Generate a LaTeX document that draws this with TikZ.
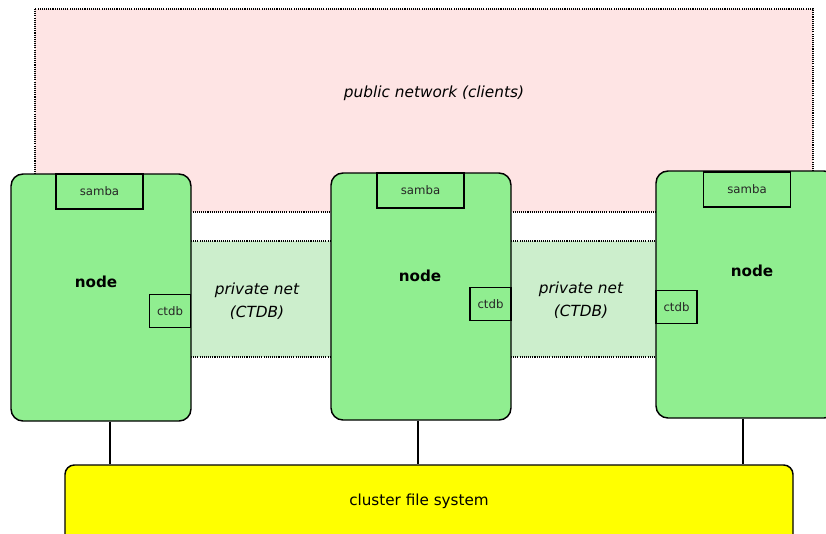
\documentclass[tikz,border=0pt]{standalone}
\usepackage{fontspec}
\setmainfont{DejaVu Sans}
\begin{document}
\begin{tikzpicture}[x=0.75pt,y=-0.75pt,
  pubnet/.style={fill=pubpink},
  privnet/.style={fill=privgreen},
  netedge/.style={line width=0.8pt,dash pattern=on 0.8pt off 0.8pt},
  hostbox/.style={draw=black,line width=1.1pt,fill=hostgreen,rounded corners=9pt,
    minimum width=135pt,minimum height=185.25pt,inner sep=0pt},
  svcbox/.style={draw=black,line width=1.1pt,fill=hostgreen,inner sep=0pt,
    font=\fontsize{8.8pt}{10pt}\selectfont,text=black!85},
  sambabox/.style={svcbox,minimum width=65.25pt,minimum height=26.25pt},
  ctdbbox/.style={svcbox,minimum width=31pt,minimum height=25pt},
  hostlabel/.style={inner sep=0pt,font=\fontsize{11.4pt}{13pt}\selectfont\bfseries},
  netlabel/.style={inner sep=0pt,align=center,font=\fontsize{11.5pt}{17pt}\selectfont\itshape},
  fsbox/.style={draw=black,line width=1.1pt,fill=fsyellow,rounded corners=7pt,
    minimum width=546pt,minimum height=60pt,inner sep=0pt},
  link/.style={line width=1.6pt}]
\definecolor{pubpink}{RGB}{254,228,228}
\definecolor{privgreen}{RGB}{204,238,204}
\definecolor{hostgreen}{RGB}{144,238,144}
\definecolor{fsyellow}{RGB}{255,255,0}
\useasboundingbox (0,0) rectangle (826,533);
\clip (0,0) rectangle (826,533);
% public network
\fill[pubnet] (35,9) rectangle (813,212);
\draw[netedge] (35,9) rectangle (813,212);
\node[netlabel] (publbl) at (434,93) {public network (clients)};
% private nets
\fill[privnet] (191,241) rectangle (331,357);
\draw[netedge] (191,241) -- (331,241) (191,357) -- (331,357);
\fill[privnet] (511,241) rectangle (656,357);
\draw[netedge] (511,241) -- (656,241) (511,357) -- (656,357);
\node[netlabel] (priv1) at (257,301) {private net\\(CTDB)};
\node[netlabel] (priv2) at (581,300) {private net\\(CTDB)};
% cluster file system
\node[fsbox] (fs) at (429,505) {};
\node[inner sep=0pt,font=\fontsize{11.4pt}{13pt}\selectfont] (fslbl) at (419,501) {cluster file system};
% hosts
\node[hostbox] (h1) at (101,297.5) {};
\node[hostbox] (h2) at (421,296.5) {};
\node[hostbox] (h3) at (746,294.5) {};
\node[sambabox] (s1) at (99.5,191.5) {samba};
\node[sambabox] (s2) at (420.5,190.5) {samba};
\node[sambabox] (s3) at (747,189.5) {samba};
\node[ctdbbox] (c1) at (170,311) {ctdb};
\node[ctdbbox] (c2) at (490.5,304) {ctdb};
\node[ctdbbox] (c3) at (676.5,307) {ctdb};
\node[hostlabel] (l1) at (96,282) {node};
\node[hostlabel] (l2) at (420,276) {node};
\node[hostlabel] (l3) at (752,271) {node};
% links to file system
\draw[link] ([xshift=6.75pt]h1.south) -- ([xshift=6.75pt]h1.south |- fs.north);
\draw[link] ([xshift=-2.25pt]h2.south) -- ([xshift=-2.25pt]h2.south |- fs.north);
\draw[link] ([xshift=-2.25pt]h3.south) -- ([xshift=-2.25pt]h3.south |- fs.north);
\end{tikzpicture}
\end{document}
